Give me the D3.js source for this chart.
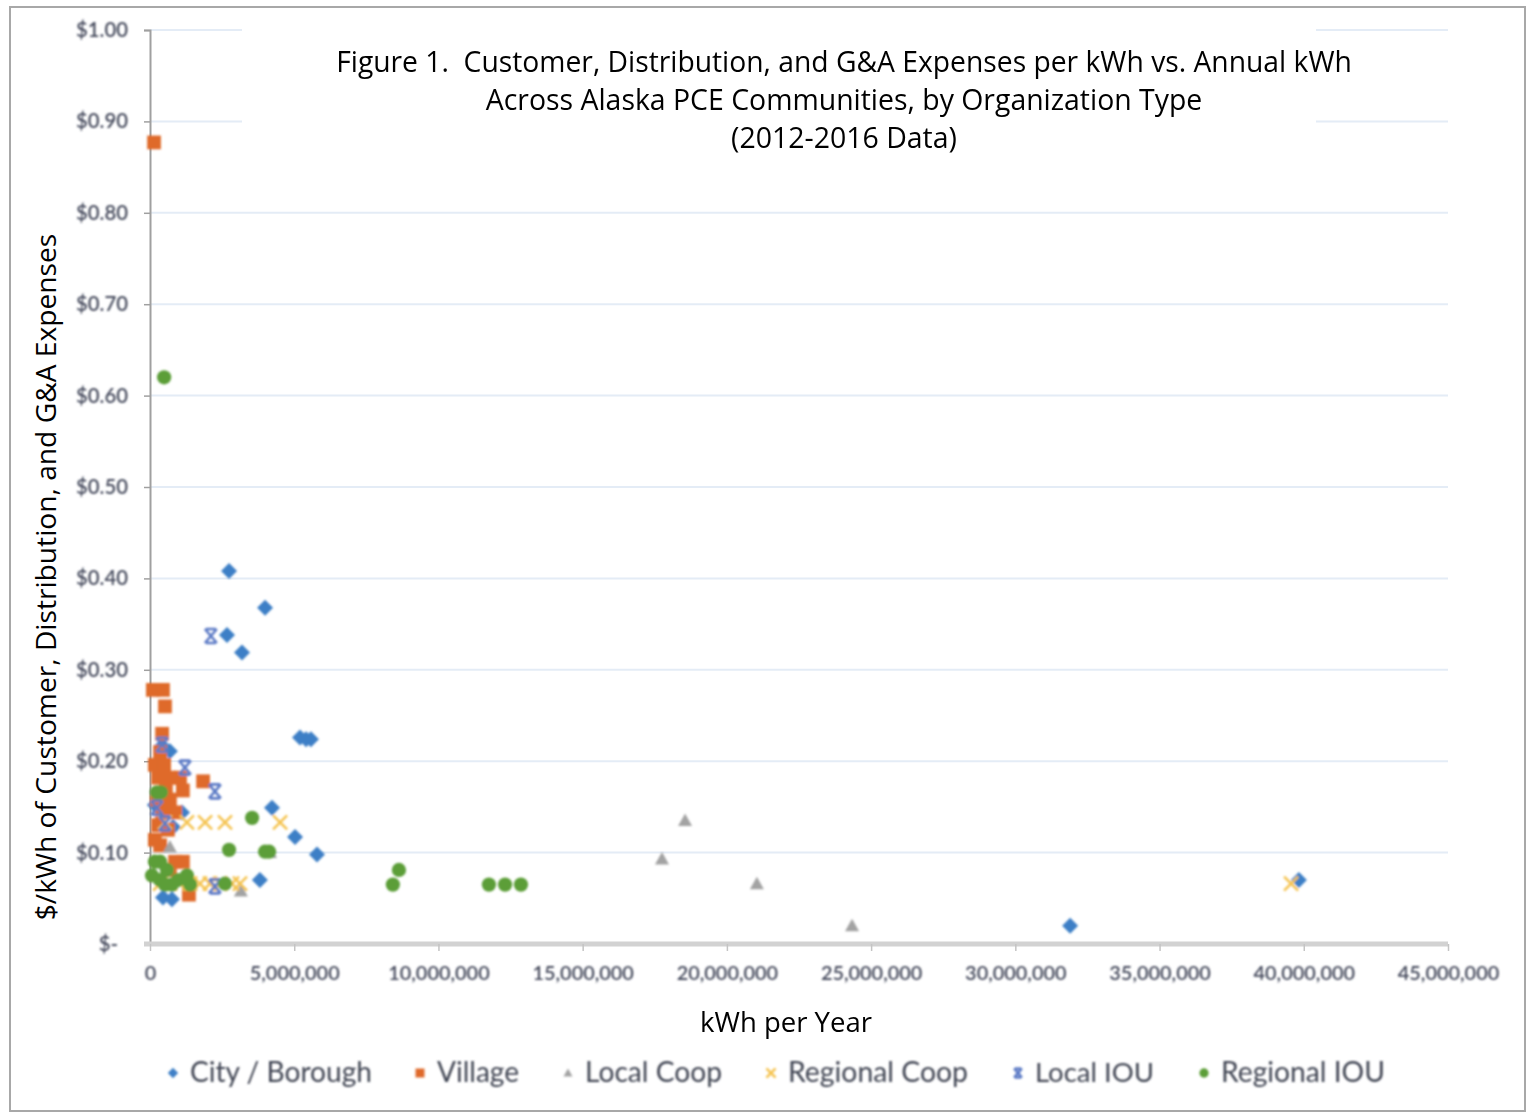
<!DOCTYPE html>
<html>
<head>
<meta charset="utf-8">
<script src="https://cdn.jsdelivr.net/npm/d3@7"></script>
<style>
  html, body { margin: 0; padding: 0; background: #ffffff; }
  svg { display: block; }
  text.keep { white-space: pre; }
</style>
</head>
<body>
<svg id="chart" width="1528" height="1115"></svg>
<script>
// Annual kWh (x) and $/kWh of customer, distribution and G&A expenses (y), by organization type
const cityBoroughKwh = [2740000, 3990000, 2670000, 3190000, 5200000, 5410000, 5580000, 4230000, 5030000, 5790000, 3810000, 31900000, 39830000, 690000, 420000, 1110000, 800000, 170000, 450000, 760000];
const cityBoroughCost = [0.408, 0.368, 0.338, 0.319, 0.226, 0.224, 0.224, 0.149, 0.117, 0.098, 0.070, 0.020, 0.070, 0.211, 0.217, 0.144, 0.128, 0.152, 0.051, 0.049];

const villageKwh = [140000, 100000, 450000, 520000, 420000, 350000, 170000, 490000, 280000, 690000, 1040000, 550000, 1140000, 1840000, 240000, 690000, 420000, 870000, 280000, 620000, 350000, 170000, 870000, 1140000, 690000, 1350000];
const villageCost = [0.877, 0.278, 0.278, 0.260, 0.230, 0.210, 0.196, 0.196, 0.182, 0.182, 0.182, 0.171, 0.168, 0.178, 0.158, 0.158, 0.144, 0.144, 0.130, 0.125, 0.108, 0.114, 0.090, 0.090, 0.081, 0.054];

const localCoopKwh = [18550000, 17750000, 21040000, 24340000, 3150000, 4160000, 690000];
const localCoopCost = [0.135, 0.093, 0.066, 0.020, 0.058, 0.100, 0.106];

const regionalCoopKwh = [39560000, 520000, 1280000, 1910000, 2600000, 4510000, 350000, 690000, 1040000, 1390000, 1730000, 2080000, 2430000, 2840000, 3120000];
const regionalCoopCost = [0.066, 0.133, 0.133, 0.133, 0.133, 0.133, 0.066, 0.066, 0.066, 0.066, 0.066, 0.066, 0.066, 0.066, 0.066];

const localIouKwh = [2110000, 1210000, 2250000, 420000, 520000, 240000, 2250000];
const localIouCost = [0.337, 0.193, 0.167, 0.218, 0.132, 0.149, 0.063];

const regionalIouKwh = [490000, 3540000, 2740000, 3990000, 4130000, 8420000, 8630000, 11750000, 12310000, 12860000, 2600000, 240000, 380000, 350000, 70000, 590000, 760000, 970000, 1280000, 1390000, 350000, 170000, 520000];
const regionalIouCost = [0.620, 0.138, 0.103, 0.101, 0.101, 0.065, 0.081, 0.065, 0.065, 0.065, 0.066, 0.166, 0.166, 0.090, 0.075, 0.081, 0.065, 0.070, 0.075, 0.065, 0.070, 0.090, 0.065];

const seriesNames = ["City / Borough", "Village", "Local Coop", "Regional Coop", "Local IOU", "Regional IOU"];

const xTickValues = [0, 5000000, 10000000, 15000000, 20000000, 25000000, 30000000, 35000000, 40000000, 45000000];
const yTickValues = [0, 0.1, 0.2, 0.3, 0.4, 0.5, 0.6, 0.7, 0.8, 0.9, 1.0];

const titleLines = [
  "Figure 1.  Customer, Distribution, and G&A Expenses per kWh vs. Annual kWh",
  "Across Alaska PCE Communities, by Organization Type",
  "(2012-2016 Data)"
];
const xAxisTitle = "kWh per Year";
const yAxisTitle = "$/kWh of Customer, Distribution, and G&A Expenses";

// ---- series table built from the arrays above ----
const series = [
  { name: seriesNames[0], xs: cityBoroughKwh, ys: cityBoroughCost, shape: "diamond", color: "#3d7fc6" },
  { name: seriesNames[1], xs: villageKwh, ys: villageCost, shape: "square", color: "#df6a2a" },
  { name: seriesNames[2], xs: localCoopKwh, ys: localCoopCost, shape: "triangle", color: "#a3a3a3" },
  { name: seriesNames[3], xs: regionalCoopKwh, ys: regionalCoopCost, shape: "cross", color: "#f5c453" },
  { name: seriesNames[4], xs: localIouKwh, ys: localIouCost, shape: "star", color: "#5d7bc6" },
  { name: seriesNames[5], xs: regionalIouKwh, ys: regionalIouCost, shape: "circle", color: "#5b9e39" }
];

const svg = d3.select("#chart");
const W = 1528, H = 1115;

const x = d3.scaleLinear().domain([0, 45000000]).range([150, 1448]);
const y = d3.scaleLinear().domain([0, 1]).range([944, 30]);

// scale a text's font size so its rendered width matches a target width
function fitFont(sel, target, base) {
  const w = sel.node().getComputedTextLength();
  if (w > 0) sel.attr("font-size", base * target / w);
}

const defs = svg.append("defs");
defs.append("filter").attr("id", "soft").attr("x", "-20%").attr("y", "-20%").attr("width", "140%").attr("height", "140%")
  .append("feGaussianBlur").attr("stdDeviation", 0.8);

svg.append("rect").attr("width", W).attr("height", H).attr("fill", "#ffffff");
// outer chart frame
svg.append("rect").attr("x", 10).attr("y", 7).attr("width", 1515).attr("height", 1104)
  .attr("fill", "none").attr("stroke", "#a8a8a8").attr("stroke-width", 2);

// horizontal gridlines
svg.append("g").selectAll("line").data(yTickValues.filter(v => v > 0)).join("line")
  .attr("x1", x(0)).attr("x2", x(45000000))
  .attr("y1", d => y(d)).attr("y2", d => y(d))
  .attr("stroke", "#e4ecf6").attr("stroke-width", 2);

// white box behind the title
svg.append("rect").attr("x", 242).attr("y", 20).attr("width", 1074).attr("height", 145).attr("fill", "#ffffff");

// y axis
const yAxis = d3.axisLeft(y).tickValues(yTickValues).tickSize(6)
  .tickFormat(d => d === 0 ? "$-" : "$" + d3.format(".2f")(d));
const gy = svg.append("g").attr("transform", `translate(${x(0)},0)`).call(yAxis);
gy.select(".domain").attr("stroke", "#a0a0a0").attr("stroke-width", 2);
gy.selectAll(".tick line").attr("stroke", "#a0a0a0").attr("stroke-width", 1.5);
gy.selectAll(".tick text").attr("x", d => d === 0 ? -32 : -22).attr("fill", "#454a5c")
  .attr("font-family", "Lato, 'Open Sans', sans-serif").attr("font-size", 17)
  .attr("font-weight", 600).attr("filter", "url(#soft)");
{
  const probe = gy.selectAll(".tick text").filter(d => d === 0.9);
  const w = probe.node().getComputedTextLength();
  gy.selectAll(".tick text").attr("font-size", 17 * 52 / w);
}

// x axis
const xAxis = d3.axisBottom(x).tickValues(xTickValues).tickSize(7).tickFormat(d3.format(","));
const gx = svg.append("g").attr("transform", `translate(0,${y(0)})`).call(xAxis);
gx.select(".domain").attr("d", `M${x(0) - 6},0H${x(45000000)}`).attr("stroke", "#d2d2d2").attr("stroke-width", 5);
gx.selectAll(".tick line").attr("stroke", "#c4c4c4").attr("stroke-width", 1.5);
gx.selectAll(".tick text").attr("y", 22).attr("fill", "#454a5c")
  .attr("font-family", "Lato, 'Open Sans', sans-serif").attr("font-size", 17)
  .attr("font-weight", 600).attr("filter", "url(#soft)");
{
  const probe = gx.selectAll(".tick text").filter(d => d === 5000000);
  const w = probe.node().getComputedTextLength();
  gx.selectAll(".tick text").attr("font-size", 17 * 90 / w);
}

// marker shapes
function markerPath(shape) {
  switch (shape) {
    case "diamond": return "M0,-8L8,0L0,8L-8,0Z";
    case "square": return d3.symbol(d3.symbolSquare, 190)();
    case "triangle": return "M0,-7L7,5.5H-7Z";
    case "circle": return d3.symbol(d3.symbolCircle, 160)();
    case "cross": return "M-7,-7L7,7M-7,7L7,-7";
    case "star": return "M-6,-7L6,7M-6,7L6,-7M-5,-7H5M-5,7H5";
  }
}
function drawMarker(g, s, cx, cy, scale) {
  const p = g.append("path").attr("d", markerPath(s.shape))
    .attr("transform", `translate(${cx},${cy}) scale(${scale})`);
  if (s.shape === "cross" || s.shape === "star") {
    p.attr("fill", "none").attr("stroke", s.color).attr("stroke-width", 2.6 / scale);
  } else {
    p.attr("fill", s.color);
  }
  return p;
}

const gMarks = svg.append("g").attr("filter", "url(#soft)");
series.forEach(s => {
  const gs = gMarks.append("g").attr("class", "series");
  s.xs.forEach((v, i) => drawMarker(gs, s, x(v), y(s.ys[i]), 1));
});

// title
const gTitle = svg.append("g");
const titleTargets = [1016, 717, 226];
titleLines.forEach((t, i) => {
  const tx = gTitle.append("text").attr("class", "keep").text(t)
    .attr("x", 844).attr("y", 72 + i * 38).attr("text-anchor", "middle")
    .attr("font-family", "'Open Sans', 'Noto Sans', sans-serif").attr("font-size", 28).attr("fill", "#000");
  fitFont(tx, titleTargets[i], 28);
});

// axis titles
const xt = svg.append("text").text(xAxisTitle).attr("x", 786).attr("y", 1032)
  .attr("text-anchor", "middle").attr("font-family", "'Open Sans', 'Noto Sans', sans-serif")
  .attr("font-size", 27).attr("fill", "#000");
fitFont(xt, 172, 27);

const yt = svg.append("text").text(yAxisTitle)
  .attr("transform", "translate(56,577) rotate(-90)")
  .attr("text-anchor", "middle").attr("font-family", "'Open Sans', 'Noto Sans', sans-serif")
  .attr("font-size", 27).attr("fill", "#000");
fitFont(yt, 687, 27);

// legend
const legendMarkerX = [173, 420, 568, 771, 1018, 1204];
const legendTextW = [182, 82, 137, 180, 119, 164];
const gLeg = svg.append("g").attr("filter", "url(#soft)");
series.forEach((s, i) => {
  drawMarker(gLeg, s, legendMarkerX[i], 1073, 0.65);
  const lt = gLeg.append("text").text(s.name)
    .attr("x", legendMarkerX[i] + 17).attr("y", 1082)
    .attr("font-family", "Lato, 'Open Sans', sans-serif").attr("font-size", 26)
    .attr("fill", "#404552");
  fitFont(lt, legendTextW[i], 26);
});
</script>
</body>
</html>
